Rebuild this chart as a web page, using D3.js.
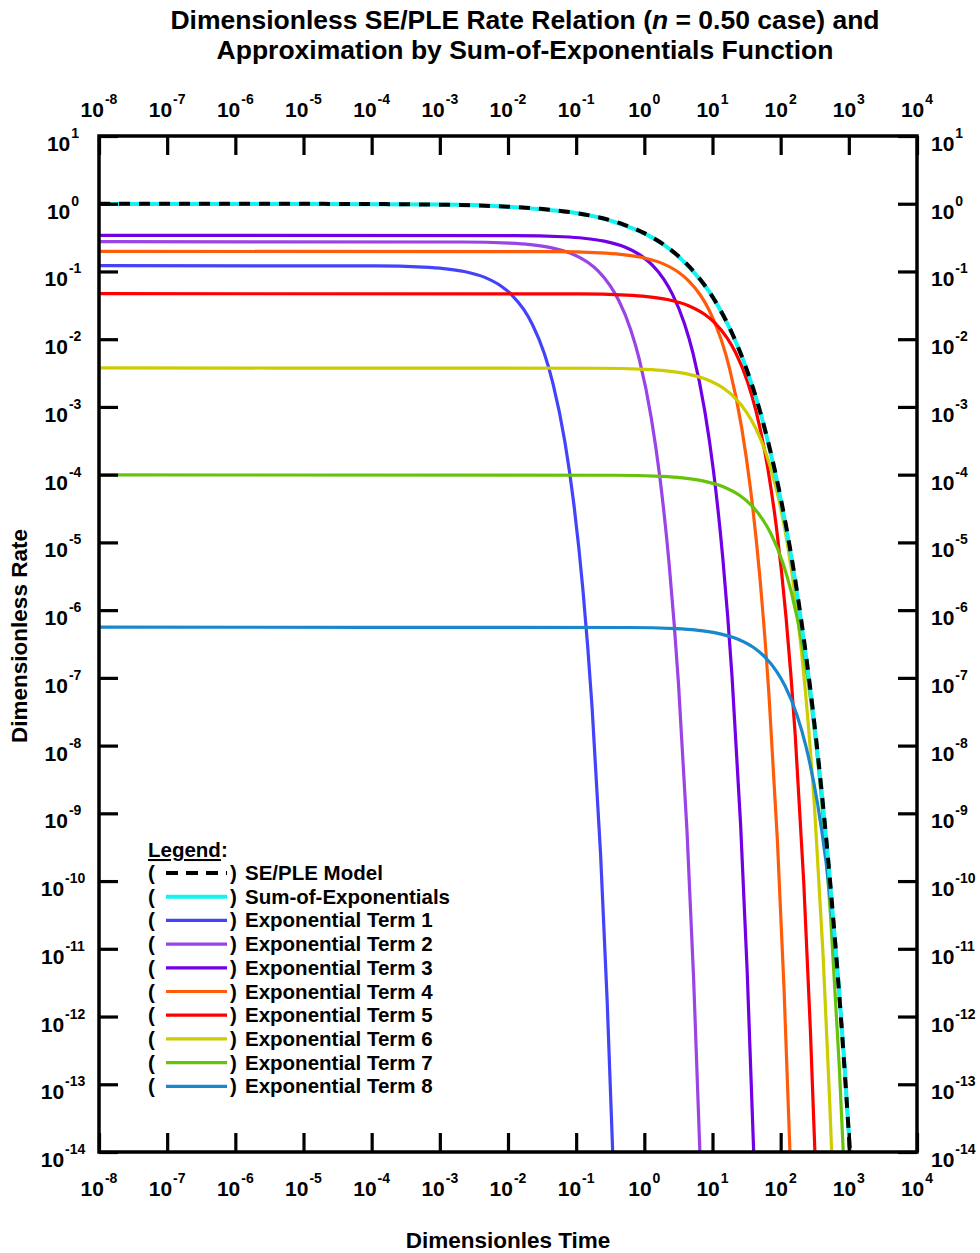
<!DOCTYPE html>
<html>
<head>
<meta charset="utf-8">
<script src="https://cdn.jsdelivr.net/npm/d3@7"></script>
<style>
  html, body { margin: 0; padding: 0; background: #fff; }
  svg text { font-family: "Liberation Sans", Arial, sans-serif; font-weight: bold; fill: #000; }
</style>
</head>
<body>
<svg id="chart" width="980" height="1253"></svg>
<script>
// ---- tick exponents ----
const xTickExponents = [-8, -7, -6, -5, -4, -3, -2, -1, 0, 1, 2, 3, 4];
const yTickExponents = [1, 0, -1, -2, -3, -4, -5, -6, -7, -8, -9, -10, -11, -12, -13, -14];

// ---- series: [dimensionless time, dimensionless rate] ----
const sePleModel = [
  [1e-8, 0.9999], [1e-7, 0.99968], [1e-6, 0.9990], [1e-5, 0.99684], [1e-4, 0.99005],
  [3e-4, 0.98283], [1e-3, 0.96887], [3e-3, 0.94670], [0.01, 0.90484], [0.03, 0.84097],
  [0.1, 0.72891], [0.2, 0.63941], [0.5, 0.49307], [1, 0.36788], [2, 0.24312],
  [5, 0.10688], [10, 0.04232], [20, 0.011420], [30, 4.181e-3], [50, 8.492e-4],
  [100, 4.540e-5], [150, 4.797e-6], [200, 7.213e-7], [300, 3.005e-8], [400, 2.061e-9],
  [500, 1.944e-10], [700, 3.233e-12], [850, 2.178e-13], [1000, 1.847e-14], [1039, 1.0e-14]
];

const sumOfExponentials = [
  [1e-8, 0.98786], [1e-6, 0.98785], [1e-5, 0.98775], [1e-4, 0.98664], [1e-3, 0.97602],
  [3e-3, 0.95482], [0.01, 0.90076], [0.03, 0.82888], [0.1, 0.73175], [0.2, 0.63877],
  [0.5, 0.48353], [1, 0.36482], [2, 0.24179], [5, 0.10455], [10, 0.042476],
  [20, 0.011267], [30, 4.1827e-3], [50, 8.539e-4], [100, 4.3295e-5], [150, 4.5998e-6],
  [200, 6.759e-7], [300, 2.932e-8], [400, 2.0643e-9], [500, 1.931e-10], [700, 3.563e-12],
  [850, 2.47e-13], [1000, 1.826e-14], [1035, 1.0e-14]
];

const expTerm1 = [
  [1e-8, 0.122], [1.14e-4, 0.1208], [5.7e-4, 0.1160], [1.14e-3, 0.1104], [2.28e-3, 0.09989],
  [4.56e-3, 0.08178], [7.98e-3, 0.06058], [0.0114, 0.04488], [0.0171, 0.02722], [0.0228, 0.01651],
  [0.0342, 6.074e-3], [0.0456, 2.235e-3], [0.0684, 3.024e-4], [0.0912, 4.093e-5], [0.1254, 2.038e-6],
  [0.171, 3.732e-8], [0.228, 2.515e-10], [0.285, 1.694e-12], [0.3435, 1.0e-14]
];

const expTerm2 = [
  [1e-8, 0.275], [2.11e-3, 0.2723], [0.01055, 0.2616], [0.0211, 0.2488], [0.0422, 0.2252],
  [0.0844, 0.1843], [0.1477, 0.1366], [0.211, 0.1012], [0.3165, 0.06136], [0.422, 0.03722],
  [0.633, 0.01369], [0.844, 5.037e-3], [1.266, 6.817e-4], [1.688, 9.225e-5], [2.321, 4.593e-6],
  [3.165, 8.412e-8], [4.22, 5.668e-10], [5.275, 3.819e-12], [6.53, 1.0e-14]
];

const expTerm3 = [
  [1e-8, 0.342], [0.0129, 0.3386], [0.0645, 0.3253], [0.129, 0.3095], [0.258, 0.2800],
  [0.516, 0.2292], [0.903, 0.1698], [1.29, 0.1258], [1.935, 0.07631], [2.58, 0.04629],
  [3.87, 0.01703], [5.16, 6.264e-3], [7.74, 8.478e-4], [10.32, 1.147e-4], [14.19, 5.712e-6],
  [19.35, 1.046e-7], [25.8, 7.049e-10], [32.25, 4.750e-12], [40.2, 1.0e-14]
];

const expTerm4 = [
  [1e-8, 0.198], [0.0447, 0.1960], [0.2235, 0.1883], [0.447, 0.1792], [0.894, 0.1621],
  [1.788, 0.1327], [3.129, 0.09832], [4.47, 0.07284], [6.705, 0.04418], [8.94, 0.02680],
  [13.41, 9.858e-3], [17.88, 3.627e-3], [26.82, 4.908e-4], [35.76, 6.642e-5], [49.17, 3.307e-6],
  [67.05, 6.057e-8], [89.4, 4.081e-10], [111.75, 2.750e-12], [136.9, 1.0e-14]
];

const expTerm5 = [
  [1e-8, 0.047], [0.109, 0.04653], [0.545, 0.04471], [1.09, 0.04253], [2.18, 0.03848],
  [4.36, 0.03151], [7.63, 0.02334], [10.9, 0.01729], [16.35, 0.01049], [21.8, 6.361e-3],
  [32.7, 2.340e-3], [43.6, 8.609e-4], [65.4, 1.165e-4], [87.2, 1.577e-5], [119.9, 7.850e-7],
  [163.5, 1.438e-8], [218, 9.688e-11], [272.5, 6.527e-13], [318, 1.0e-14]
];

const expTerm6 = [
  [1e-8, 3.76e-3], [0.21, 3.723e-3], [1.05, 3.577e-3], [2.1, 3.402e-3], [4.2, 3.078e-3],
  [8.4, 2.520e-3], [14.7, 1.867e-3], [21, 1.383e-3], [31.5, 8.390e-4], [42, 5.089e-4],
  [63, 1.872e-4], [84, 6.887e-5], [126, 9.320e-6], [168, 1.261e-6], [231, 6.280e-8],
  [315, 1.150e-9], [420, 7.750e-12], [525, 5.222e-14], [559.7, 1.0e-14]
];

const expTerm7 = [
  [1e-8, 9.9e-5], [0.36, 9.801e-5], [1.8, 9.417e-5], [3.6, 8.958e-5], [7.2, 8.105e-5],
  [14.4, 6.636e-5], [25.2, 4.916e-5], [36, 3.642e-5], [54, 2.209e-5], [72, 1.340e-5],
  [108, 4.929e-6], [144, 1.813e-6], [216, 2.454e-7], [288, 3.321e-8], [396, 1.653e-9],
  [540, 3.028e-11], [720, 2.041e-13], [828.5, 1.0e-14]
];

const expTerm8 = [
  [1e-8, 5.6e-7], [0.58, 5.544e-7], [2.9, 5.327e-7], [5.8, 5.067e-7], [11.6, 4.585e-7],
  [23.2, 3.754e-7], [40.6, 2.781e-7], [58, 2.060e-7], [87, 1.250e-7], [116, 7.579e-8],
  [174, 2.788e-8], [232, 1.026e-8], [348, 1.388e-9], [464, 1.879e-10], [638, 9.353e-12],
  [870, 1.713e-13], [1034.8, 1.0e-14]
];

const legendLabels = [
  "SE/PLE Model", "Sum-of-Exponentials",
  "Exponential Term 1", "Exponential Term 2", "Exponential Term 3", "Exponential Term 4",
  "Exponential Term 5", "Exponential Term 6", "Exponential Term 7", "Exponential Term 8"
];

// ---- layout and styling ----
const plot = { left: 99, right: 917, top: 136, bottom: 1152 };
const termColors = ["#4343fa", "#9a43e6", "#7200e6", "#ff5c0a", "#ff0000", "#cccc00", "#66c20a", "#1a86cc"];
const termData = [expTerm1, expTerm2, expTerm3, expTerm4, expTerm5, expTerm6, expTerm7, expTerm8];

const svg = d3.select("#chart");

const x = d3.scaleLog().domain([1e-8, 1e4]).range([plot.left, plot.right]);
const y = d3.scaleLog().domain([1e-14, 1e1]).range([plot.bottom, plot.top]);

// clip region for the curves
svg.append("defs").append("clipPath").attr("id", "plotClip")
  .append("rect")
  .attr("x", plot.left).attr("y", plot.top)
  .attr("width", plot.right - plot.left).attr("height", plot.bottom - plot.top);

const line = d3.line()
  .x(d => x(d[0]))
  .y(d => y(d[1]))
  .curve(d3.curveMonotoneX);

const curves = svg.append("g").attr("clip-path", "url(#plotClip)");

termData.forEach((series, i) => {
  curves.append("path")
    .datum(series)
    .attr("d", line)
    .attr("fill", "none")
    .attr("stroke", termColors[i])
    .attr("stroke-width", 3.2);
});

curves.append("path")
  .datum(sumOfExponentials)
  .attr("d", line)
  .attr("fill", "none")
  .attr("stroke", "#14f2f2")
  .attr("stroke-width", 4);

curves.append("path")
  .datum(sePleModel)
  .attr("d", line)
  .attr("fill", "none")
  .attr("stroke", "#000")
  .attr("stroke-width", 4)
  .attr("stroke-dasharray", "11,9");

// ---- axes: inward ticks on all four sides ----
const tickLen = 19;
const xTickVals = xTickExponents.map(e => Math.pow(10, e));
const yTickVals = yTickExponents.map(e => Math.pow(10, e));

function styleAxis(g) {
  g.select(".domain").remove();
  g.selectAll(".tick line").attr("stroke", "#000").attr("stroke-width", 3.2);
  g.selectAll(".tick text").remove();
}

svg.append("g").attr("transform", `translate(0,${plot.bottom})`)
  .call(d3.axisBottom(x).tickValues(xTickVals).tickSize(-tickLen).tickFormat(""))
  .call(styleAxis);
svg.append("g").attr("transform", `translate(0,${plot.top})`)
  .call(d3.axisTop(x).tickValues(xTickVals).tickSize(-tickLen).tickFormat(""))
  .call(styleAxis);
svg.append("g").attr("transform", `translate(${plot.left},0)`)
  .call(d3.axisLeft(y).tickValues(yTickVals).tickSize(-tickLen).tickFormat(""))
  .call(styleAxis);
svg.append("g").attr("transform", `translate(${plot.right},0)`)
  .call(d3.axisRight(y).tickValues(yTickVals).tickSize(-tickLen).tickFormat(""))
  .call(styleAxis);

// frame
svg.append("rect")
  .attr("x", plot.left).attr("y", plot.top)
  .attr("width", plot.right - plot.left).attr("height", plot.bottom - plot.top)
  .attr("fill", "none").attr("stroke", "#000").attr("stroke-width", 3.5);

// power-of-ten labels
function powerLabel(g, px, py, exp, anchor) {
  const t = g.append("text")
    .attr("x", px).attr("y", py)
    .attr("text-anchor", anchor)
    .attr("font-size", 21);
  t.append("tspan").text("10");
  t.append("tspan").attr("dy", -13).attr("dx", 1).attr("font-size", 14).text(String(exp));
}

const labels = svg.append("g");
xTickExponents.forEach(e => {
  powerLabel(labels, x(Math.pow(10, e)), 1196, e, "middle");
  powerLabel(labels, x(Math.pow(10, e)), 117, e, "middle");
});
yTickExponents.forEach(e => {
  powerLabel(labels, 63, y(Math.pow(10, e)) + 15, e, "middle");
  powerLabel(labels, 931, y(Math.pow(10, e)) + 15, e, "start");
});

// ---- titles ----
const title1 = svg.append("text").attr("x", 525).attr("y", 29)
  .attr("text-anchor", "middle").attr("font-size", 26.5);
title1.append("tspan").text("Dimensionless SE/PLE Rate Relation (");
title1.append("tspan").attr("font-style", "italic").text("n");
title1.append("tspan").text(" = 0.50 case) and");

svg.append("text").attr("x", 525).attr("y", 59)
  .attr("text-anchor", "middle").attr("font-size", 26.5)
  .text("Approximation by Sum-of-Exponentials Function");

svg.append("text")
  .attr("transform", "translate(27,636) rotate(-90)")
  .attr("text-anchor", "middle").attr("font-size", 22.5)
  .text("Dimensionless Rate");

svg.append("text").attr("x", 508).attr("y", 1248)
  .attr("text-anchor", "middle").attr("font-size", 22.5)
  .text("Dimensionles Time");

// ---- legend ----
const legend = svg.append("g");
const legendX = 148, legendTop = 857, rowGap = 23.7;
const legendFont = 20.5;

const lg = legend.append("text").attr("x", legendX).attr("y", legendTop).attr("font-size", legendFont);
lg.append("tspan").attr("text-decoration", "underline").text("Legend");
lg.append("tspan").text(":");

const legendStyles = [
  { color: "#000", dash: "12,8", width: 4 },
  { color: "#14f2f2", dash: null, width: 4 }
].concat(termColors.map(c => ({ color: c, dash: null, width: 3.2 })));

legendLabels.forEach((label, i) => {
  const cy = legendTop + 16 + i * rowGap;
  legend.append("text").attr("x", legendX).attr("y", cy + 7).attr("font-size", legendFont).text("(");
  legend.append("line")
    .attr("x1", 166).attr("x2", 227).attr("y1", cy).attr("y2", cy)
    .attr("stroke", legendStyles[i].color)
    .attr("stroke-width", legendStyles[i].width)
    .attr("stroke-dasharray", legendStyles[i].dash);
  legend.append("text").attr("x", 230).attr("y", cy + 7).attr("font-size", legendFont).text(")");
  legend.append("text").attr("x", 245).attr("y", cy + 7).attr("font-size", legendFont).text(label);
});
</script>
</body>
</html>
